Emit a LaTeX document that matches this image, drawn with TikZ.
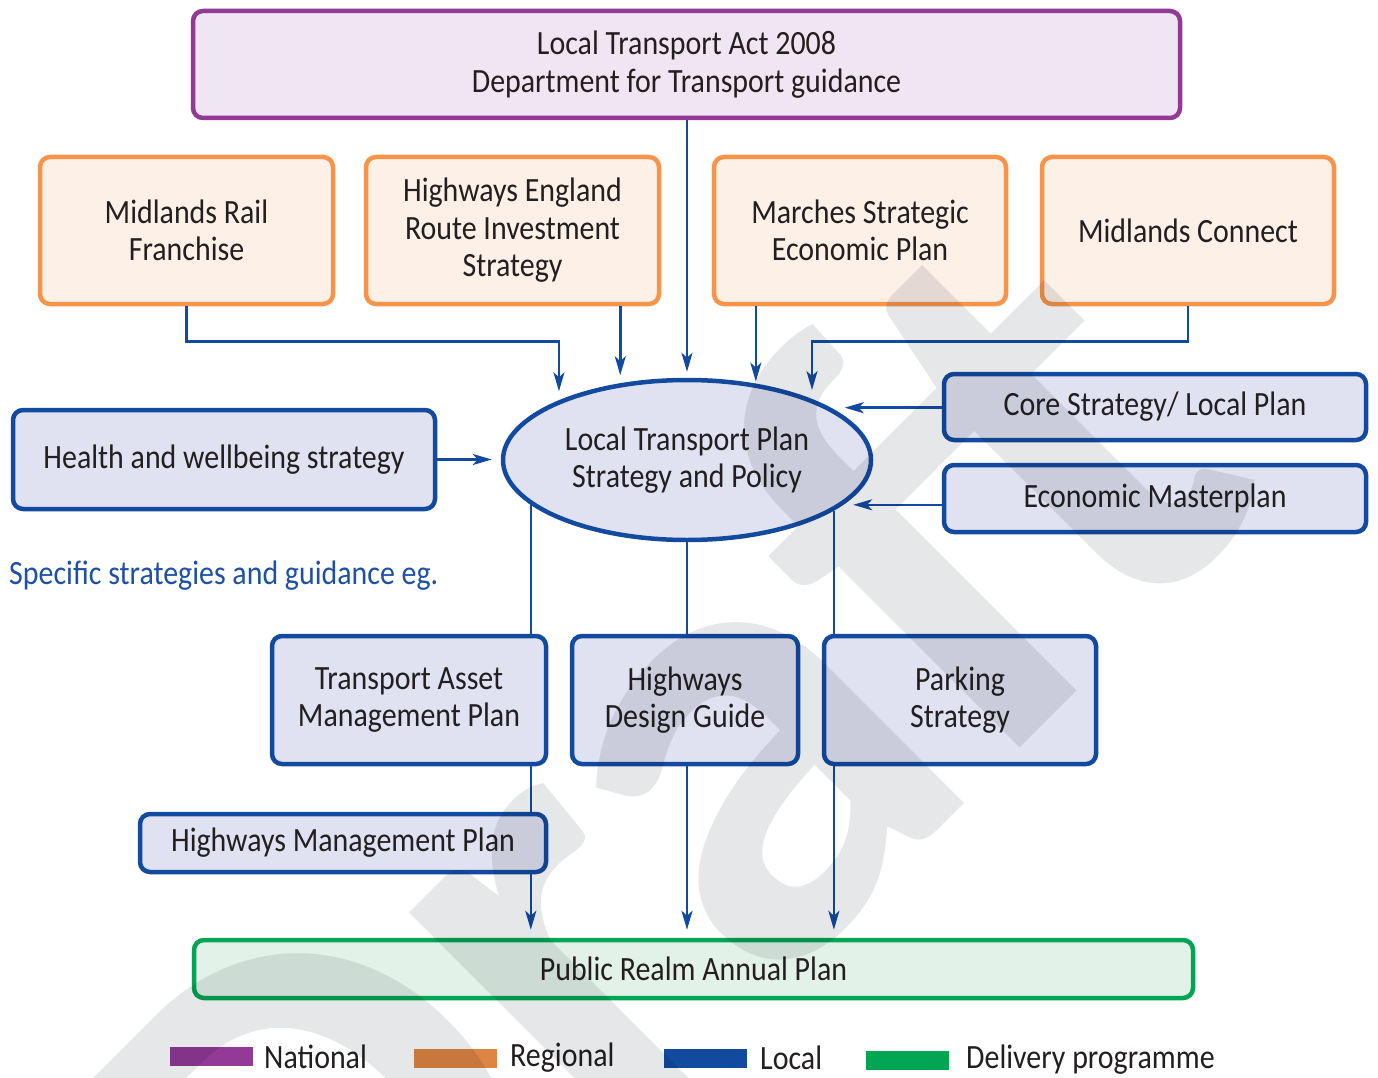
\documentclass[tikz,border=0pt]{standalone}
\usepackage{fontspec}
\setmainfont{Carlito}[FakeStretch=0.88]
\newfontfamily\wmfont{Carlito}
\usetikzlibrary{shapes.geometric,arrows.meta,calc}
\definecolor{natS}{RGB}{147,58,150}
\definecolor{natF}{RGB}{240,229,242}
\definecolor{regS}{RGB}{247,148,74}
\definecolor{regF}{RGB}{253,240,231}
\definecolor{locS}{RGB}{18,74,160}
\definecolor{locF}{RGB}{224,226,242}
\definecolor{delS}{RGB}{0,166,81}
\definecolor{delF}{RGB}{227,242,233}
\definecolor{txt}{RGB}{35,31,32}
\definecolor{blueT}{RGB}{30,80,165}
\definecolor{wm}{RGB}{230,231,232}
\pgfdeclarelayer{bg}
\pgfdeclarelayer{fg}
\pgfsetlayers{bg,main,fg}
\tikzset{
  lbl/.style={text=txt, font=\fontsize{34}{37.5}\selectfont},
  box/.style={lbl, rectangle, rounded corners=10pt, line width=4.5pt, inner sep=0pt, align=center},
  sz/.style 2 args={minimum width=#1pt, minimum height=#2pt},
  natbox/.style={box, draw=natS, fill=natF},
  regbox/.style={box, draw=regS, fill=regF},
  locbox/.style={box, draw=locS, fill=locF},
  delbox/.style={box, draw=delS, fill=delF},
  conn/.style={draw=locS, line width=2.5pt, -{Stealth[length=19pt,width=11pt,inset=5pt]}},
  key/.style={inner sep=0pt, minimum width=83pt, minimum height=19pt},
  keytext/.style={lbl, anchor=west, inner sep=0pt},
}
\begin{document}
\begin{tikzpicture}[x=1pt,y=-1pt]
\useasboundingbox (0,0) rectangle (1378,1078);
\begin{pgfonlayer}{bg}
\fill[white] (0,0) rectangle (1378,1078);
\end{pgfonlayer}

% national
\node[natbox, sz={987}{107}] (top) at (686.5,64.5) {Local Transport Act 2008\\Department for Transport guidance};
% regional
\node[regbox, sz={293}{147}] (rail) at (186.5,230.5) {Midlands Rail\\Franchise};
\node[regbox, sz={293}{147}] (hwy) at (512.5,230.5) {Highways England\\Route Investment\\Strategy};
\node[regbox, sz={292}{147}] (march) at (860,230.5) {Marches Strategic\\Economic Plan};
\node[regbox, sz={292}{147}] (mconn) at (1188,230.5) {Midlands Connect};
% central
\node[ellipse, draw=locS, fill=locF, line width=4.5pt, minimum width=368pt, minimum height=160pt, inner sep=0pt, align=center, lbl] (ltp) at (687,460) {Local Transport Plan\\Strategy and Policy};
% local
\node[locbox, sz={422}{99}] (health) at (224,459.5) {Health and wellbeing strategy};
\node[locbox, sz={422}{66}] (core) at (1155,407) {Core Strategy/ Local Plan};
\node[locbox, sz={422}{67}] (econ) at (1155,498.5) {Economic Masterplan};
\node[anchor=west, inner sep=0pt, text=blueT, font=\fontsize{34}{37.5}\selectfont] (spec) at (9,576) {Specific strategies and guidance eg.};
\node[locbox, sz={274}{128}] (tamp) at (409,700) {Transport Asset\\Management Plan};
\node[locbox, sz={226}{128}] (hdg) at (685,700) {Highways\\Design Guide};
\node[locbox, sz={272}{128}] (park) at (960,700) {Parking\\Strategy};
\node[locbox, sz={406}{58}] (hmp) at (343,843) {Highways Management Plan};
% delivery
\node[delbox, sz={999}{58}] (prap) at (693.5,969) {Public Realm Annual Plan};

% connectors into the plan
\draw[conn, shorten >=9pt] (rail.south) -- ++(0,35) -| (ltp.155);
\draw[conn, shorten >=8pt] (ltp.131 |- hwy.south) -- (ltp.131);
\draw[conn, shorten >=6pt] (top.south -| ltp.north) -- (ltp.north);
\draw[conn, shorten >=2pt] (ltp.48 |- march.south) -- (ltp.48);
\draw[conn, shorten >=9pt] (mconn.south) -- ++(0,35) -| (ltp.26);
\draw[conn, shorten >=9pt] (health.east) -- (health.east -| ltp.west);
\draw[conn, shorten >=14pt] (core.west |- ltp.20) -- (ltp.20);
\draw[conn, shorten >=10pt] (econ.west |- ltp.344) -- (ltp.344);

% connectors down to delivery (behind boxes)
\begin{pgfonlayer}{bg}
\draw[conn, shorten >=8pt] (ltp.196) -- (ltp.196 |- prap.north);
\draw[conn, shorten >=8pt] (ltp.south) -- (ltp.south |- prap.north);
\draw[conn, shorten >=8pt] (ltp.341) -- (ltp.341 |- prap.north);
\end{pgfonlayer}

% legend
\node[key, fill=natS] (k1) at (211.5,1056.5) {};
\node[keytext] (t1) at (264,1057) {National};
\node[key, fill=regS!90!black] (k2) at (455,1058.5) {};
\node[keytext] (t2) at (510,1058) {Regional};
\node[key, fill=locS] (k3) at (705.5,1058.5) {};
\node[keytext] (t3) at (760,1058) {Local};
\node[key, fill=delS] (k4) at (907,1060.5) {};
\node[keytext] (t4) at (966,1060) {Delivery programme};

% watermark
\begin{pgfonlayer}{fg}
\begin{scope}
\clip (0,0) rectangle (1378,1078);
\begin{scope}[blend mode=multiply]
\node[rotate=45, anchor=base west, text=wm, inner sep=0pt, font=\wmfont\bfseries\fontsize{650}{650}\selectfont] (wmk) at (318,1450) {Draft};
\end{scope}
\end{scope}
\end{pgfonlayer}
\end{tikzpicture}
\end{document}
